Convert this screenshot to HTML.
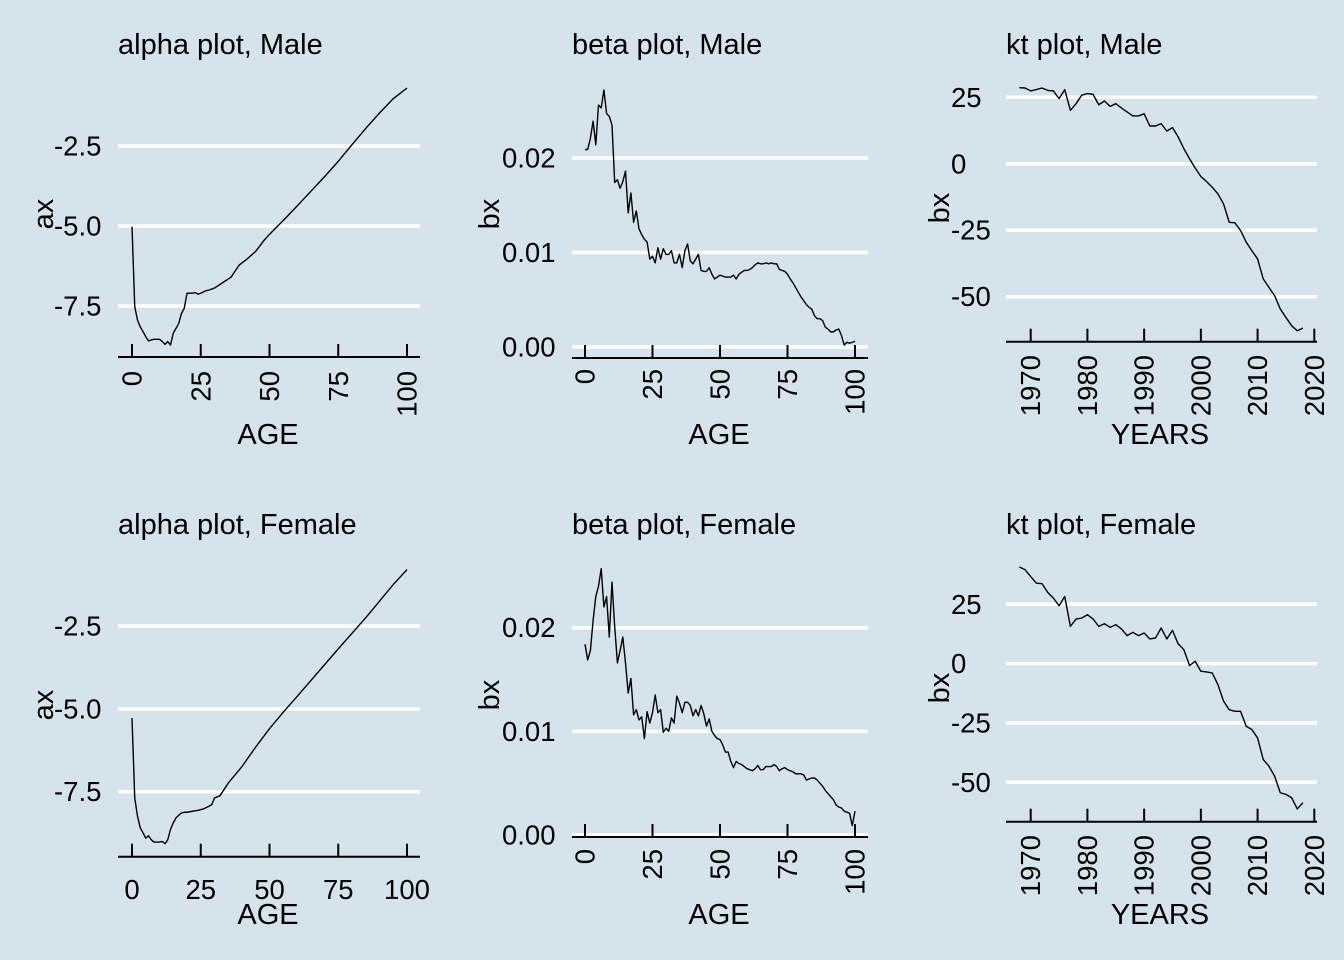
<!DOCTYPE html>
<html><head><meta charset="utf-8"><style>
html,body{margin:0;padding:0;background:#d5e4eb;}
svg{display:block;font-family:"Liberation Sans",Arial,sans-serif;}
</style></head><body>
<svg id="chart" width="1344" height="960" viewBox="0 0 1344 960">
<rect x="0" y="0" width="1344" height="960" fill="#d5e4eb"/>
</svg>
<script>
// ---- data ----
const alphaMaleAges = [0,1,2,3,4,5,6,7,8,9,10,11,12,13,14,15,16,17,18,19,20,21,22,23,24,25,26,27,28,29,30,33,36,39,42,45,48,50,53,56,60,65,70,75,80,85,90,95,100];
const alphaMaleVals = [-5.02,-7.52,-7.94,-8.15,-8.30,-8.46,-8.59,-8.56,-8.54,-8.54,-8.54,-8.61,-8.70,-8.61,-8.72,-8.35,-8.20,-8.04,-7.73,-7.57,-7.10,-7.10,-7.10,-7.08,-7.13,-7.10,-7.06,-7.02,-7.00,-6.97,-6.94,-6.77,-6.60,-6.22,-6.02,-5.79,-5.45,-5.26,-5.00,-4.74,-4.38,-3.92,-3.46,-2.98,-2.46,-1.95,-1.47,-1.02,-0.69];
const alphaFemaleAges = [0,1,2,3,4,5,6,7,8,9,10,11,12,13,14,15,16,17,18,19,20,22,24,26,28,29,30,32,35,40,45,50,55,60,65,70,75,80,85,90,95,100];
const alphaFemaleVals = [-5.28,-7.69,-8.24,-8.59,-8.74,-8.90,-8.83,-8.95,-9.02,-9.02,-9.02,-9.00,-9.07,-8.95,-8.64,-8.44,-8.29,-8.21,-8.14,-8.12,-8.12,-8.09,-8.06,-8.02,-7.94,-7.89,-7.69,-7.62,-7.24,-6.74,-6.15,-5.60,-5.10,-4.63,-4.15,-3.67,-3.19,-2.72,-2.25,-1.75,-1.25,-0.80];
const betaMaleVals = [0.0209,0.0209,0.0221,0.0239,0.0214,0.0256,0.0253,0.0272,0.0247,0.0244,0.0235,0.0174,0.0177,0.0168,0.0175,0.0186,0.0142,0.0163,0.0132,0.0144,0.0125,0.0119,0.0114,0.0111,0.0093,0.0096,0.0089,0.0105,0.0093,0.0104,0.0098,0.0098,0.0102,0.0089,0.0089,0.0098,0.0084,0.0102,0.0109,0.0091,0.0088,0.0093,0.0098,0.0081,0.0080,0.0080,0.0084,0.0077,0.0072,0.0074,0.0076,0.0075,0.0074,0.0074,0.0074,0.0076,0.0072,0.0077,0.0079,0.0081,0.0081,0.0082,0.0084,0.0087,0.0089,0.0088,0.0088,0.0089,0.0088,0.0089,0.0088,0.0088,0.0082,0.0081,0.0080,0.0077,0.0072,0.0068,0.0063,0.0058,0.0053,0.0049,0.0045,0.0042,0.0040,0.0033,0.0030,0.0030,0.0028,0.0021,0.0019,0.0016,0.0016,0.0018,0.0019,0.0012,0.0002,0.0005,0.0004,0.0005,0.0006];
const betaFemaleVals = [0.0184,0.0169,0.0178,0.0207,0.0230,0.0240,0.0257,0.0220,0.0230,0.0191,0.0244,0.0201,0.0166,0.0178,0.0191,0.0166,0.0137,0.0151,0.0116,0.0121,0.0111,0.0114,0.0093,0.0119,0.0108,0.0118,0.0135,0.0118,0.0121,0.0099,0.0103,0.0100,0.0113,0.0108,0.0134,0.0127,0.0118,0.0128,0.0128,0.0125,0.0115,0.0121,0.0115,0.0125,0.0117,0.0105,0.0112,0.0100,0.0096,0.0093,0.0092,0.0087,0.0080,0.0080,0.0071,0.0065,0.0071,0.0069,0.0068,0.0066,0.0064,0.0063,0.0062,0.0064,0.0067,0.0063,0.0063,0.0066,0.0066,0.0066,0.0068,0.0066,0.0062,0.0064,0.0065,0.0063,0.0062,0.0061,0.0059,0.0059,0.0059,0.0058,0.0053,0.0054,0.0055,0.0055,0.0053,0.0050,0.0047,0.0043,0.0040,0.0037,0.0034,0.0029,0.0027,0.0026,0.0023,0.0022,0.0021,0.0009,0.0023];
const ktYears = [1968,1969,1970,1971,1972,1973,1974,1975,1976,1977,1978,1979,1980,1981,1982,1983,1984,1985,1986,1987,1988,1989,1990,1991,1992,1993,1994,1995,1996,1997,1998,1999,2000,2001,2002,2003,2004,2005,2006,2007,2008,2009,2010,2011,2012,2013,2014,2015,2016,2017,2018];
const ktMaleVals = [28.6,28.5,27.4,27.9,28.5,27.6,27.4,24.5,27.9,20.1,22.6,25.8,26.4,26.1,22.2,23.6,21.6,22.6,21.0,19.5,18.0,18.0,18.8,14.2,14.2,15.1,12.3,13.6,10.1,5.7,1.9,-1.6,-4.8,-6.7,-8.8,-11.3,-15.1,-22.0,-22.2,-25.1,-29.5,-32.7,-35.8,-43.3,-46.5,-49.6,-54.6,-57.8,-60.9,-62.8,-61.8];
const ktFemaleVals = [40.7,39.6,36.7,33.9,33.7,30.0,27.6,24.4,28.3,15.7,18.8,19.2,20.6,18.8,15.7,16.8,15.3,16.4,14.6,11.8,13.2,11.8,12.9,10.4,10.8,15.0,10.4,14.0,8.3,5.9,-0.8,1.0,-3.2,-3.5,-3.9,-8.8,-15.8,-19.4,-20.1,-20.1,-26.4,-27.8,-31.3,-40.4,-43.2,-47.4,-54.4,-55.1,-56.5,-61.2,-58.6];
const ageTicks = [0,25,50,75,100];
const yearTicks = [1970,1980,1990,2000,2010,2020];
const alphaTicks = [-2.5,-5.0,-7.5];
const alphaTickLabels = ["-2.5","-5.0","-7.5"];
const betaTicks = [0,0.01,0.02];
const betaTickLabels = ["0.00","0.01","0.02"];
const ktTicks = [25,0,-25,-50];
const ktTickLabels = ["25","0","-25","-50"];

const NS = "http://www.w3.org/2000/svg";
const svg = document.getElementById("chart");
function mk(tag, attrs, parent){ const e=document.createElementNS(NS,tag); for(const k in attrs) e.setAttribute(k,attrs[k]); (parent||svg).appendChild(e); return e; }
function lin(d0,d1,r0,r1){ return v => r0 + (v-d0)*(r1-r0)/(d1-d0); }
const TICK_FS = 27.5, TITLE_FS = 29, AXT_FS = 29;

function panel(p){
  const g = mk("g",{});
  
  
  const xs = lin(p.xd[0],p.xd[1],p.xr[0],p.xr[1]);
  const ys = lin(p.yd[0],p.yd[1],p.yr[0],p.yr[1]);
  p.yTicks.forEach((t,i)=>{
    const l = mk("line",{x1:p.gx[0],x2:p.gx[1],y1:ys(t),y2:ys(t),stroke:"#ffffff","stroke-width":3.5},g);
    
    
    const tx = mk("text",{x:p.ylabX,y:ys(t),"font-size":TICK_FS,fill:"#000","dominant-baseline":"central"},g);
    tx.textContent = p.yTickLabels[i];
    
    
  });
  const ax = mk("line",{x1:p.gx[0],x2:p.gx[1],y1:p.axisY,y2:p.axisY,stroke:"#000","stroke-width":2},g);
  
  
  p.xTicks.forEach(t=>{
    const x = xs(t);
    const tk = mk("line",{x1:x,x2:x,y1:p.axisY-13,y2:p.axisY,stroke:"#000","stroke-width":2},g);
    
    
    let tx;
    if(p.rotX){
      tx = mk("text",{x:x,y:p.xlabY,"font-size":TICK_FS,fill:"#000","text-anchor":"end","dominant-baseline":"central",transform:`rotate(-90 ${x} ${p.xlabY})`},g);
    } else {
      tx = mk("text",{x:x,y:p.xlabY,"font-size":TICK_FS,fill:"#000","text-anchor":"middle"},g);
    }
    tx.textContent = String(t);
    
    
  });
  const pts = p.xs.map((v,i)=>xs(v).toFixed(2)+","+ys(p.vals[i]).toFixed(2)).join(" ");
  const pl = mk("polyline",{points:pts,fill:"none",stroke:"#000","stroke-width":1.4,"stroke-linejoin":"round"},g);
  
  
  const ti = mk("text",{x:p.gx[0],y:p.titleY,"font-size":TITLE_FS,fill:"#000"},g);
  ti.textContent = p.title;
  
  
  const xt = mk("text",{x:p.xtX,y:p.xtY,"font-size":AXT_FS,fill:"#000","text-anchor":"middle"},g);
  xt.textContent = p.xTitle;
  
  
  const yt = mk("text",{x:p.ytX,y:p.ytY,"font-size":AXT_FS,fill:"#000","text-anchor":"middle","dominant-baseline":"central",transform:`rotate(-90 ${p.ytX} ${p.ytY})`},g);
  yt.textContent = p.yTitle;
  
  
}
const ages = Array.from({length:101},(_,i)=>i);

panel({name:"alpha-male-panel",title:"alpha plot, Male",xs:alphaMaleAges,vals:alphaMaleVals,xd:[0,100],xr:[132,407],yd:[-2.5,-7.5],yr:[146,306],gx:[118,420],axisY:357,yTicks:alphaTicks,yTickLabels:alphaTickLabels,ylabX:54,xTicks:ageTicks,rotX:true,xlabY:371,titleY:54,xTitle:"AGE",xtX:268,xtY:444,yTitle:"ax",ytX:44,ytY:214});
panel({name:"beta-male-panel",title:"beta plot, Male",xs:ages,vals:betaMaleVals,xd:[0,100],xr:[585,855],yd:[0,0.02],yr:[347,158],gx:[572,868],axisY:358,yTicks:betaTicks,yTickLabels:betaTickLabels,ylabX:502,xTicks:ageTicks,rotX:true,xlabY:369,titleY:54,xTitle:"AGE",xtX:719,xtY:444,yTitle:"bx",ytX:490,ytY:214});
panel({name:"kt-male-panel",title:"kt plot, Male",xs:ktYears,vals:ktMaleVals,xd:[1970,2020],xr:[1030.7,1314.3],yd:[25,-50],yr:[97.3,296.7],gx:[1006,1317],axisY:341.7,yTicks:ktTicks,yTickLabels:ktTickLabels,ylabX:951,xTicks:yearTicks,rotX:true,xlabY:355,titleY:54,xTitle:"YEARS",xtX:1160,xtY:444,yTitle:"bx",ytX:940,ytY:208});
panel({name:"alpha-female-panel",title:"alpha plot, Female",xs:alphaFemaleAges,vals:alphaFemaleVals,xd:[0,100],xr:[132,407],yd:[-2.5,-7.5],yr:[626,791.7],gx:[118,420],axisY:856.7,yTicks:alphaTicks,yTickLabels:alphaTickLabels,ylabX:54,xTicks:ageTicks,rotX:false,xlabY:899,titleY:534,xTitle:"AGE",xtX:268,xtY:924,yTitle:"ax",ytX:44,ytY:705});
panel({name:"beta-female-panel",title:"beta plot, Female",xs:ages,vals:betaFemaleVals,xd:[0,100],xr:[585,855],yd:[0,0.02],yr:[835,627.7],gx:[572,868],axisY:837,yTicks:betaTicks,yTickLabels:betaTickLabels,ylabX:502,xTicks:ageTicks,rotX:true,xlabY:849,titleY:534,xTitle:"AGE",xtX:719,xtY:924,yTitle:"bx",ytX:490,ytY:695});
panel({name:"kt-female-panel",title:"kt plot, Female",xs:ktYears,vals:ktFemaleVals,xd:[1970,2020],xr:[1030.7,1314.3],yd:[25,-50],yr:[604.3,782.3],gx:[1006,1317],axisY:821.7,yTicks:ktTicks,yTickLabels:ktTickLabels,ylabX:951,xTicks:yearTicks,rotX:true,xlabY:835,titleY:534,xTitle:"YEARS",xtX:1160,xtY:924,yTitle:"bx",ytX:940,ytY:688});
</script>
</body></html>
